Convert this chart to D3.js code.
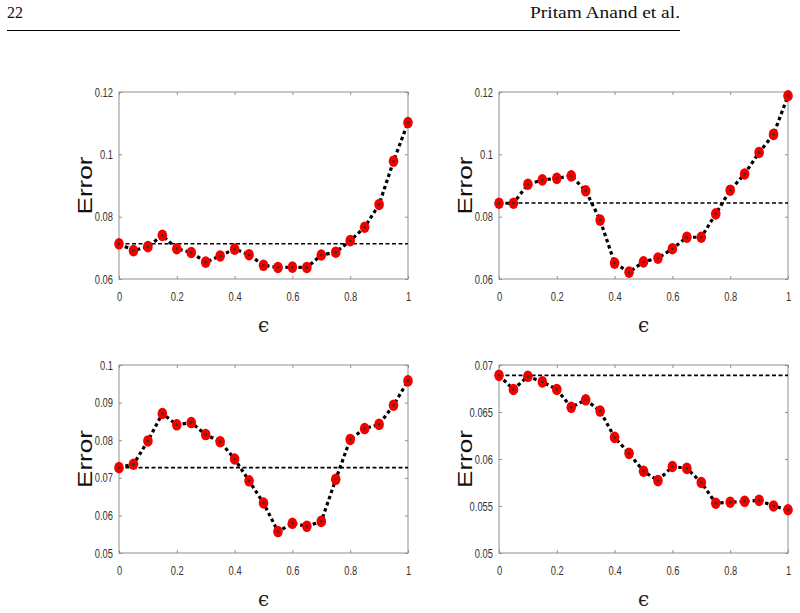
<!DOCTYPE html>
<html>
<head>
<meta charset="utf-8">
<script src="https://cdn.jsdelivr.net/npm/d3@7"></script>
<style>
  body { margin: 0; background: #fff; }
  .tick-label { font-family: "Liberation Sans", Arial, sans-serif; font-size: 13px; fill: #333; }
  .y-title { font-family: "Liberation Sans", Arial, sans-serif; font-size: 21px; fill: #111; }
  .x-title { font-family: "DejaVu Serif", serif; font-size: 20px; fill: #222; }
  .head { font-family: "Liberation Serif", "DejaVu Serif", serif; font-size: 16px; fill: #111; }
</style>
</head>
<body>
<div id="chart"></div>
<script>
const width = 800;
const height = 613;

// epsilon values shared by every panel
const epsilons = [0, 0.05, 0.1, 0.15, 0.2, 0.25, 0.3, 0.35, 0.4, 0.45, 0.5,
  0.55, 0.6, 0.65, 0.7, 0.75, 0.8, 0.85, 0.9, 0.95, 1];
const xTicks = [0, 0.2, 0.4, 0.6, 0.8, 1];

// panel a (top left)
const errorsA = [0.0713, 0.0691, 0.0704, 0.0740, 0.0697, 0.0685, 0.0654, 0.0674, 0.0696, 0.0678, 0.0644,
  0.0637, 0.0638, 0.0637, 0.0677, 0.0686, 0.0723, 0.0766, 0.0839, 0.0978, 0.1102];
const baselineA = 0.0713;
const yTicksA = [0.06, 0.08, 0.1, 0.12];

// panel b (top right)
const errorsB = [0.0843, 0.0843, 0.0904, 0.0918, 0.0923, 0.0931, 0.0883, 0.0789, 0.0651, 0.0622, 0.0655,
  0.0667, 0.0697, 0.0734, 0.0734, 0.0809, 0.0885, 0.0937, 0.1006, 0.1064, 0.1188];
const baselineB = 0.0844;
const yTicksB = [0.06, 0.08, 0.1, 0.12];

// panel c (bottom left)
const errorsC = [0.0727, 0.0736, 0.0798, 0.0871, 0.0841, 0.0847, 0.0815, 0.0796, 0.0750, 0.0692, 0.0633,
  0.0557, 0.0579, 0.0571, 0.0584, 0.0696, 0.0802, 0.0831, 0.0842, 0.0893, 0.0958];
const baselineC = 0.0727;
const yTicksC = [0.05, 0.06, 0.07, 0.08, 0.09, 0.1];

// panel d (bottom right)
const errorsD = [0.0689, 0.0674, 0.0688, 0.0682, 0.0674, 0.0655, 0.0663, 0.0651, 0.0623, 0.0606, 0.0587,
  0.0577, 0.0592, 0.0590, 0.0575, 0.0553, 0.0554, 0.0555, 0.0556, 0.0550, 0.0546];
const baselineD = 0.0689;
const yTicksD = [0.05, 0.055, 0.06, 0.065, 0.07];

const panels = [
  {errors: errorsA, baseline: baselineA, yTicks: yTicksA, left: 119, top: 92, bottom: 279},
  {errors: errorsB, baseline: baselineB, yTicks: yTicksB, left: 499, top: 92, bottom: 279},
  {errors: errorsC, baseline: baselineC, yTicks: yTicksC, left: 119, top: 365, bottom: 553},
  {errors: errorsD, baseline: baselineD, yTicks: yTicksD, left: 499, top: 365, bottom: 553}
];
const boxWidth = 289;
const squeeze = 0.72;   // tick labels in the original are horizontally condensed

const svg = d3.select('#chart').append('svg')
  .attr('width', width)
  .attr('height', height);

// page header
svg.append('text').attr('class', 'head').attr('x', 7).attr('y', 18).text('22');
svg.append('text').attr('class', 'head').attr('x', 530).attr('y', 18)
  .attr('textLength', 150).attr('lengthAdjust', 'spacingAndGlyphs')
  .text('Pritam Anand et al.');
svg.append('line')
  .attr('x1', 7).attr('x2', 680).attr('y1', 30.5).attr('y2', 30.5)
  .attr('stroke', '#000').attr('stroke-width', 1);

panels.forEach(makePanel);

function makePanel(p) {
  const yDomain = d3.extent(p.yTicks);
  const x = d3.scaleLinear().domain([0, 1]).range([p.left, p.left + boxWidth]);
  const y = d3.scaleLinear().domain(yDomain).range([p.bottom, p.top]);
  const g = svg.append('g');

  // box
  g.append('rect')
    .attr('x', x(0)).attr('y', y(yDomain[1]))
    .attr('width', x(1) - x(0)).attr('height', y(yDomain[0]) - y(yDomain[1]))
    .attr('fill', 'none').attr('stroke', '#8f8f8f').attr('stroke-width', 1);

  // inward ticks on all four sides
  const tickLen = 3;
  const axisStyle = a => a.call(s => s.select('.domain').remove())
    .call(s => s.selectAll('.tick line').attr('stroke', '#8f8f8f'))
    .call(s => s.selectAll('.tick text').attr('class', 'tick-label').attr('fill', null)
      .attr('x', function() { return +d3.select(this).attr('x') / squeeze; })
      .attr('transform', 'scale(' + squeeze + ',1)'));

  g.append('g').attr('transform', translate(0, p.bottom))
    .call(d3.axisBottom(x).tickValues(xTicks).tickFormat(d3.format('')).tickSizeInner(-tickLen).tickPadding(13))
    .call(axisStyle);
  g.append('g').attr('transform', translate(0, p.top))
    .call(d3.axisTop(x).tickValues(xTicks).tickSizeInner(-tickLen).tickFormat(''))
    .call(axisStyle);
  g.append('g').attr('transform', translate(p.left, 0))
    .call(d3.axisLeft(y).tickValues(p.yTicks).tickFormat(d3.format('')).tickSizeInner(-tickLen).tickPadding(6))
    .call(axisStyle);
  g.append('g').attr('transform', translate(p.left + boxWidth, 0))
    .call(d3.axisRight(y).tickValues(p.yTicks).tickSizeInner(-tickLen).tickFormat(''))
    .call(axisStyle);

  // baseline
  g.append('line')
    .attr('x1', x(0)).attr('x2', x(1))
    .attr('y1', y(p.baseline)).attr('y2', y(p.baseline))
    .attr('stroke', '#000').attr('stroke-width', 1.6)
    .attr('stroke-dasharray', '4,2.5');

  const pts = epsilons.map((e, i) => [e, p.errors[i]]);

  // error curve
  g.append('path')
    .datum(pts)
    .attr('d', d3.line().x(d => x(d[0])).y(d => y(d[1])))
    .attr('fill', 'none').attr('stroke', '#000').attr('stroke-width', 3.2)
    .attr('stroke-dasharray', '3.5,3');

  construct(g, pts, 'ellipse.marker')
    .attr('cx', d => x(d[0])).attr('cy', d => y(d[1]))
    .attr('rx', 4.8).attr('ry', 5.8)
    .attr('fill', '#f20000');

  construct(g, pts, 'circle.dot')
    .attr('cx', d => x(d[0])).attr('cy', d => y(d[1]))
    .attr('r', 1.2)
    .attr('fill', '#1f3a0c');

  // axis titles
  const midY = (p.top + p.bottom) / 2;
  g.append('text').attr('class', 'y-title')
    .attr('transform', translate(p.left - 27, midY) + ' rotate(-90)')
    .attr('text-anchor', 'middle')
    .attr('textLength', 58).attr('lengthAdjust', 'spacingAndGlyphs')
    .text('Error');
  g.append('text').attr('class', 'x-title')
    .attr('x', x(0.5)).attr('y', p.bottom + 53)
    .attr('text-anchor', 'middle')
    .text('\u03F5');
}

function construct(sel, data, tag) {
  const [el, cls] = tag.split('.');
  return sel.selectAll(tag).data(data).enter().append(el).attr('class', cls);
}

function translate(x, y) {
  return 'translate(' + x + ',' + y + ')';
}
</script>
</body>
</html>
